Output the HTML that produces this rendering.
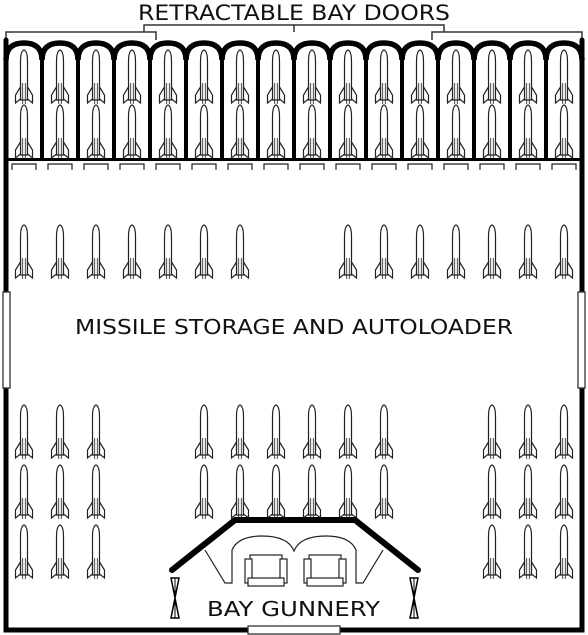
<!DOCTYPE html>
<html><head><meta charset="utf-8"><style>
html,body{margin:0;padding:0;background:#fff;}
svg{display:block;}
text{font-family:"DejaVu Sans","Liberation Sans",sans-serif;fill:#111;}
</style></head><body>
<svg id="s" width="588" height="635" viewBox="0 0 588 635" xmlns="http://www.w3.org/2000/svg">
<defs>
<g id="missile">
<path d="M-3.5,12 Q-3.5,1 0,0 Q3.5,1 3.5,12 L3.5,50 L-3.5,50 Z" fill="#fff" stroke="#222" stroke-width="1.2"/>
<path d="M-3.5,37 L-8.5,45 L-8.5,53 L-3.5,49 Z M3.5,37 L8.5,45 L8.5,53 L3.5,49 Z" fill="#fff" stroke="#222" stroke-width="1.2"/>
<path d="M-1.3,33 L-1.3,54 M1.3,33 L1.3,54" stroke="#222" stroke-width="0.8"/>
</g>
</defs>
<g fill="none" stroke="#333" stroke-width="1.5">
<path d="M144,32 L144,25 L444,25 L444,32 M294,25 L294,32 M6,40 L6,32 L156,32 L156,40 M432,40 L432,32 L582,32 L582,40"/>
</g>
<text x="138" y="20" font-size="21" textLength="312" lengthAdjust="spacingAndGlyphs">RETRACTABLE BAY DOORS</text>
<g id="bays"></g>
<g id="store"></g>
<g stroke="#000" stroke-width="5" fill="none" stroke-linecap="round">
<path d="M6,40 L6,292 M6,388 L6,630 L248,630 M340,630 L582,630 L582,388 M582,292 L582,40"/>
</g>
<g fill="#fff" stroke="#333" stroke-width="1.3">
<rect x="3" y="292" width="7" height="96"/>
<rect x="578" y="292" width="7" height="96"/>
<rect x="248" y="626" width="92" height="8"/>
</g>
<text x="75" y="334" font-size="20" textLength="438" lengthAdjust="spacingAndGlyphs">MISSILE STORAGE AND AUTOLOADER</text>
<g>
<path d="M172,570 L235,520 L355,520 L418,570" fill="#fff" stroke="#000" stroke-width="6" stroke-linecap="round" stroke-linejoin="round"/>
<path d="M205,550 L225,583 L232,583 L232,550 Q238,536 262,536 Q288,536 294,551 Q300,536 326,536 Q350,536 356,550 L356,583 L363,583 L383,550" fill="none" stroke="#222" stroke-width="1.2"/>
<g fill="#fff" stroke="#222" stroke-width="1.2">
<rect x="250" y="555" width="32" height="28"/><rect x="245" y="559" width="7" height="24"/><rect x="280" y="559" width="7" height="24"/><rect x="248" y="578" width="36" height="8"/>
</g>
<g fill="#fff" stroke="#222" stroke-width="1.2">
<rect x="309" y="555" width="32" height="28"/><rect x="304" y="559" width="7" height="24"/><rect x="339" y="559" width="7" height="24"/><rect x="307" y="578" width="36" height="8"/>
</g>
<path d="M171,578 L179,578 L175,598 Z M171,618 L179,618 L175,598 Z M410,578 L418,578 L414,598 Z M410,618 L418,618 L414,598 Z" fill="#fff" stroke="#000" stroke-width="1.5"/>
<path d="M175,578 L175,618 M414,578 L414,618" stroke="#000" stroke-width="1"/>
</g>
<text x="207" y="616" font-size="20" textLength="173" lengthAdjust="spacingAndGlyphs">BAY GUNNERY</text>
</svg>
<script>
const NS="http://www.w3.org/2000/svg";
const bayCount=16;
const bayRows=[50,105];
const storageGroups=[
 {cols:[24,60,96,132,168,204,240,348,384,420,456,492,528,564],rows:[225]},
 {cols:[24,60,96,492,528,564],rows:[405,465,525]},
 {cols:[204,240,276,312,348,384],rows:[405,465]}
];
function missile(parent,x,y){
  const u=document.createElementNS(NS,"use");
  u.setAttribute("href","#missile");
  u.setAttribute("transform","translate("+x+","+y+")");
  
  
  parent.appendChild(u);
}
const bays=document.getElementById("bays");
let d="";
for(let k=0;k<bayCount;k++){
  const x0=6+36*k, x1=x0+36;
  d+="M"+x0+",60 Q"+x0+",43 "+(x0+18)+",43 Q"+x1+",43 "+x1+",60 ";
}
const arch=document.createElementNS(NS,"path");
arch.setAttribute("d",d);arch.setAttribute("fill","none");arch.setAttribute("stroke","#000");arch.setAttribute("stroke-width","5.5");


bays.appendChild(arch);
for(let k=1;k<bayCount;k++){
  const c=document.createElementNS(NS,"rect");
  c.setAttribute("x",6+36*k-2);c.setAttribute("y",55);c.setAttribute("width",4);c.setAttribute("height",105);c.setAttribute("fill","#000");
  
  
  bays.appendChild(c);
}
const base=document.createElementNS(NS,"rect");
base.setAttribute("x",6);base.setAttribute("y",158);base.setAttribute("width",576);base.setAttribute("height",3);base.setAttribute("fill","#000");


bays.appendChild(base);
for(let k=0;k<bayCount;k++){
  const cx=24+36*k;
  bayRows.forEach(r=>missile(bays,cx,r));
  const b=document.createElementNS(NS,"path");
  b.setAttribute("d","M"+(cx-12)+",170 L"+(cx-12)+",164 L"+(cx+12)+",164 L"+(cx+12)+",170");
  b.setAttribute("fill","none");b.setAttribute("stroke","#222");b.setAttribute("stroke-width","1.2");
  
  
  bays.appendChild(b);
}
const store=document.getElementById("store");
storageGroups.forEach(g=>g.rows.forEach(r=>g.cols.forEach(c=>missile(store,c,r))));
</script>
</body></html>
